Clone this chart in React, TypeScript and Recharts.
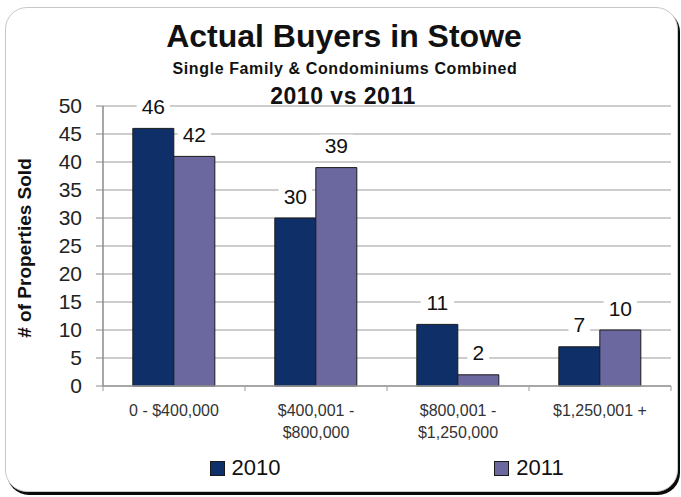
import React from "react";
import {
  BarChart,
  Bar,
  XAxis,
  YAxis,
  CartesianGrid,
  LabelList,
  Legend,
} from "recharts";

// ---- data ----
const categories = ["0 - $400,000", "$400,001 - $800,000", "$800,001 - $1,250,000", "$1,250,001 +"];
const tickLines = [["0 - $400,000"], ["$400,001 -", "$800,000"], ["$800,001 -", "$1,250,000"], ["$1,250,001 +"]];
const buyers2010 = [46, 30, 11, 7];
const buyers2011 = [41, 39, 2, 10];
const labels2010 = ["46", "30", "11", "7"];
const labels2011 = ["42", "39", "2", "10"];
const yTicks = [0, 5, 10, 15, 20, 25, 30, 35, 40, 45, 50];
const seriesNames = ["2010", "2011"];
const seriesColors = ["#0f2f68", "#6b679f"];

const data = categories.map((c, i) => ({
  category: c,
  lines: tickLines[i],
  y2010: buyers2010[i],
  y2011: buyers2011[i],
  l2010: labels2010[i],
  l2011: labels2011[i],
}));

const FONT = '"Liberation Sans", Arial, Helvetica, sans-serif';
const W = 681;
const H = 497;
const PLOT_W = 568;

const CategoryTick = (props: any) => {
  const { x, y, index, payload, visibleTicksCount } = props;
  const count = visibleTicksCount || categories.length;
  const half = (typeof props.width === "number" && props.width > 0 ? props.width : PLOT_W) / (2 * count);
  const lines: string[] = tickLines[index] || [String(payload.value)];
  return (
    <g>
      {index === 0 && <line x1={x - half} x2={x - half} y1={y} y2={y + 5} stroke="#9a9a9a" strokeWidth={1} />}
      <line x1={x + half} x2={x + half} y1={y} y2={y + 5} stroke="#9a9a9a" strokeWidth={1} />
      {lines.map((t, k) => (
        <text
          key={k}
          x={x}
          y={y + 30 + k * 21.7}
          textAnchor="middle"
          fontFamily={FONT}
          fontSize={16}
          fill="#333"
        >
          {t}
        </text>
      ))}
    </g>
  );
};

const ValueLabel = (props: any) => {
  const { x, y, width, value } = props;
  const cx = x + width / 2;
  const cy = y - 22;
  const s = String(value);
  const tw = s.length * 11.7 + 10;
  return (
    <g>
      <rect x={cx - tw / 2} y={cy - 11} width={tw} height={22} fill="#fff" />
      <text x={cx} y={cy + 7.5} textAnchor="middle" fontFamily={FONT} fontSize={21} fill="#111">
        {s}
      </text>
    </g>
  );
};

const LegendContent = () => (
  <div style={{ display: "flex", width: PLOT_W, fontFamily: FONT }}>
    {seriesNames.map((n, i) => (
      <div key={n} style={{ flex: 1, display: "flex", justifyContent: "center", alignItems: "center" }}>
        <span
          style={{
            display: "inline-block",
            width: 13,
            height: 13,
            background: seriesColors[i],
            border: "1px solid #1a1a1a",
            marginRight: 7,
          }}
        />
        <span style={{ fontSize: 22, lineHeight: "22px", color: "#111" }}>{n}</span>
      </div>
    ))}
  </div>
);

const YLabel = (props: any) => {
  const vb = props.viewBox || { x: 0, y: 106, width: 103, height: 280 };
  const cx = 24;
  const cy = vb.y + vb.height / 2 + 2;
  return (
    <text
      x={cx}
      y={cy}
      transform={`rotate(-90 ${cx} ${cy})`}
      textAnchor="middle"
      dominantBaseline="central"
      fontFamily={FONT}
      fontWeight="bold"
      fontSize={19}
      fill="#111"
    >
      # of Properties Sold
    </text>
  );
};

export default function App() {
  return (
    <div style={{ position: "absolute", left: 0, top: 0, width: W, height: H, background: "#fff", overflow: "hidden" }}>
      <div
        style={{
          position: "absolute",
          left: 5,
          top: 7,
          width: 671,
          height: 483,
          borderRadius: 22,
          border: "1px solid #c8c8c8",
          boxShadow: "2px 3px 0 #0a0a0a",
          background: "#fff",
        }}
      />
      <div style={{ position: "absolute", left: 0, top: 0 }}>
        <BarChart
          width={W}
          height={H}
          data={data}
          margin={{ top: 106, right: 10, bottom: 51, left: 0 }}
          barCategoryGap="21%"
          barGap={0}
        >
          <CartesianGrid horizontal vertical={false} stroke="#bdbdbd" strokeWidth={1.5} />
          <XAxis
            dataKey="category"
            height={60}
            interval={0}
            tickLine={false}
            tickSize={0}
            tickMargin={0}
            axisLine={{ stroke: "#9a9a9a", strokeWidth: 1.5 }}
            tick={<CategoryTick />}
          />
          <YAxis
            width={103}
            domain={[0, 50]}
            ticks={yTicks}
            interval={0}
            tickSize={7}
            tickMargin={14}
            tickLine={{ stroke: "#8a8a8a" }}
            axisLine={{ stroke: "#8a8a8a", strokeWidth: 1.5 }}
            tick={{ fontFamily: FONT, fontSize: 21, fill: "#222" }}
            label={<YLabel />}
          />
          <YAxis
            yAxisId="right"
            orientation="right"
            width={0}
            domain={[0, 50]}
            tick={false}
            tickLine={false}
            axisLine={{ stroke: "#a8a8a8", strokeWidth: 1.5 }}
          />
          <Legend
            layout="horizontal"
            verticalAlign="middle"
            align="center"
            wrapperStyle={{ left: 103, top: 457, width: PLOT_W }}
            content={<LegendContent />}
          />
          <Bar dataKey="y2010" name={seriesNames[0]} fill={seriesColors[0]} stroke="#1a1a1a" strokeWidth={1} isAnimationActive={false}>
            <LabelList dataKey="l2010" content={<ValueLabel />} />
          </Bar>
          <Bar dataKey="y2011" name={seriesNames[1]} fill={seriesColors[1]} stroke="#1a1a1a" strokeWidth={1} isAnimationActive={false}>
            <LabelList dataKey="l2011" content={<ValueLabel />} />
          </Bar>
        </BarChart>
      </div>
      <svg
        width={W}
        height={120}
        style={{ position: "absolute", left: 0, top: 0, pointerEvents: "none" }}
      >
        <text x={344} y={47} textAnchor="middle" fontFamily={FONT} fontWeight="bold" fontSize={32} fill="#111">
          Actual Buyers in Stowe
        </text>
        <text x={345} y={74} textAnchor="middle" fontFamily={FONT} fontWeight="bold" fontSize={16} letterSpacing={0.6} fill="#111">
          Single Family &amp; Condominiums Combined
        </text>
        <text x={343} y={104} textAnchor="middle" fontFamily={FONT} fontWeight="bold" fontSize={23} letterSpacing={0.5} fill="#111">
          2010 vs 2011
        </text>
      </svg>
    </div>
  );
}
